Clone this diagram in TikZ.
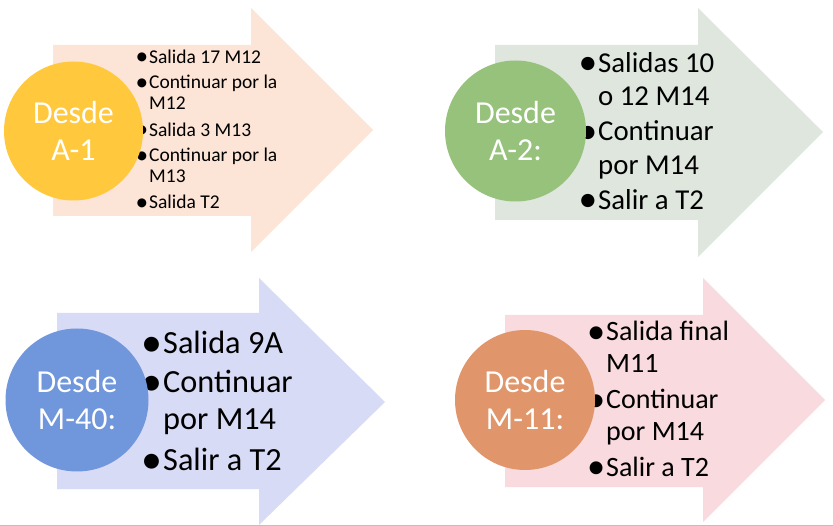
\documentclass[tikz,border=0pt]{standalone}
\usepackage{fontspec}
\setmainfont{Carlito}
\usetikzlibrary{positioning}

\definecolor{peach}{HTML}{FCE4D6}
\definecolor{gold}{HTML}{FFC83D}
\definecolor{sage}{HTML}{DEE6DE}
\definecolor{leaf}{HTML}{96C27B}
\definecolor{lilac}{HTML}{D8DBF5}
\definecolor{cobalt}{HTML}{7096DC}
\definecolor{blush}{HTML}{F9DADE}
\definecolor{clay}{HTML}{E0966A}

\begin{document}
\begin{tikzpicture}[x=1pt, y=-1pt,
            hub/.style={circle, inner sep=0pt, text=white, align=center,
                        font=\fontsize{32}{37}\selectfont},
            list/.style={anchor=west, inner sep=0pt, align=left}
        ]
        \useasboundingbox (0,0) rectangle (833,526);
        \newcommand{\itm}{\makebox[0pt][r]{\raisebox{-0.08em}{\scalebox{1.3}{\textbullet}}\hspace{1pt}}}

        % --- Desde A-1 ---
        \fill[peach] (53,45) -- (251,45) -- (251,8) -- (373,130)
            -- (251,252) -- (251,216) -- (53,216) -- cycle;
        \node[list, font=\fontsize{19.5}{21}\selectfont] (lstA) at (149,130)
            {\itm Salida 17 M12\\[4.5pt]
             \itm Continuar por la\\ M12\\[5.5pt]
             \itm Salida 3 M13\\[4.5pt]
             \itm Continuar por la\\ M13\\[5pt]
             \itm Salida T2};
        \node[hub, fill=gold, minimum size=139pt] (hubA) at (73.5,131) {Desde\\ A-1};

        % --- Desde A-2 ---
        \fill[sage] (495,45) -- (698,45) -- (698,8) -- (823,132)
            -- (698,257) -- (698,220) -- (495,220) -- cycle;
        \node[list, font=\fontsize{28.8}{33.5}\selectfont] (lstB) at (598,132)
            {\itm Salidas 10\\ o 12 M14\\[1.5pt]
             \itm Continuar\\ por M14\\[1.5pt]
             \itm Salir a T2};
        \node[hub, fill=leaf, minimum size=141pt] (hubB) at (515.5,131) {Desde\\ A-2:};

        % --- Desde M-40 ---
        \fill[lilac] (57,313) -- (259,313) -- (259,278) -- (385,402)
            -- (259,525) -- (259,489) -- (57,489) -- cycle;
        \node[list, font=\fontsize{32.3}{37}\selectfont] (lstC) at (163,402)
            {\itm Salida 9A\\[2pt]
             \itm Continuar\\ por M14\\[4pt]
             \itm Salir a T2};
        \node[hub, fill=cobalt, minimum size=143pt] (hubC) at (77,400) {Desde\\ M-40:};

        % --- Desde M-11 ---
        \fill[blush] (505,315) -- (703,315) -- (703,278) -- (825,400)
            -- (703,522) -- (703,487) -- (505,487) -- cycle;
        \node[list, font=\fontsize{28}{31.5}\selectfont] (lstD) at (606,400)
            {\itm Salida final\\ M11\\[5pt]
             \itm Continuar\\ por M14\\[4.5pt]
             \itm Salir a T2};
        \node[hub, fill=clay, minimum size=140pt] (hubD) at (525,400) {Desde\\ M-11:};

        % bottom rule
        \draw[black!25, line width=1pt] (0,525.5) -- (833,525.5);
\end{tikzpicture}
\end{document}
